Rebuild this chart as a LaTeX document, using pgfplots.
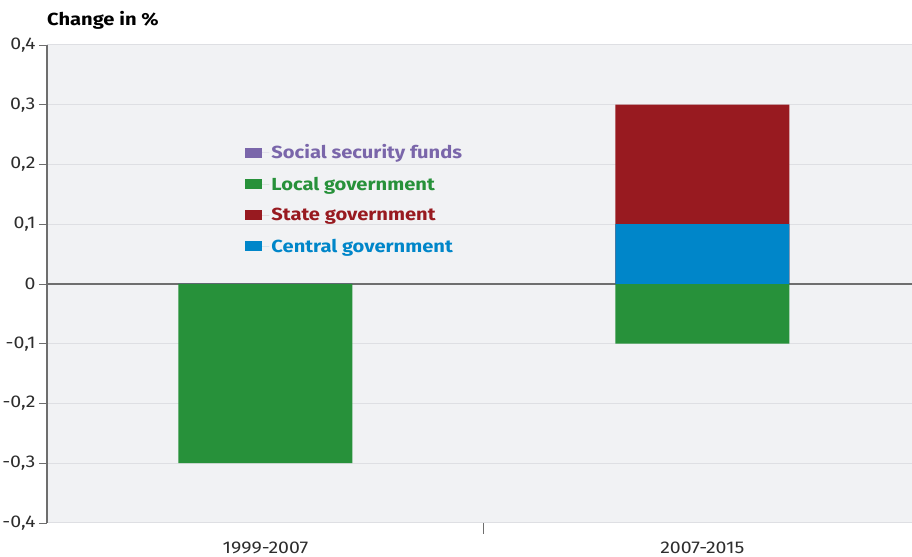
\documentclass[border=0pt]{standalone}
\usepackage{pgfplots}
\pgfplotsset{compat=1.18}
\usepackage{fontspec}
\setmainfont{Fira Sans}[FakeStretch=1.15]
\definecolor{cSoc}{RGB}{122,102,170}
\definecolor{cLoc}{RGB}{39,145,58}
\definecolor{cSta}{RGB}{152,26,32}
\definecolor{cCen}{RGB}{0,134,201}
\definecolor{bgc}{RGB}{241,242,244}
\definecolor{gridc}{RGB}{222,223,227}
\definecolor{axc}{RGB}{110,110,110}
\definecolor{txtc}{RGB}{45,45,45}
\pgfplotsset{
  mybar/.style={ybar, bar width=174pt, bar shift=0pt, draw=none, fill=#1,
    legend image code/.code={\path (0pt,0pt) -- (24pt,0pt);\fill[fill=#1,draw=none] (0pt,-5pt) rectangle (17pt,5pt);}},
}
\begin{document}
\begin{tikzpicture}
\begin{axis}[
  name=ax,
  scale only axis,
  width=865pt, height=478pt,
  xmin=-0.5, xmax=1.48,
  ymin=-0.4, ymax=0.4,
  axis background/.style={fill=bgc},
  axis x line*=bottom, axis y line*=left,
  x axis line style={draw=none},
  y axis line style={draw=axc, line width=1.5pt},
  tick align=outside,
  xtick={0,1}, xticklabels={1999-2007,2007-2015},
  minor xtick={0.5},
  major x tick style={draw=none},
  minor x tick style={draw=axc, line width=0.8pt},
  minor tick length=11pt,
  major tick length=8pt,
  ytick={-0.4,-0.3,-0.2,-0.1,0.1,0.2,0.3,0.4},
  extra y ticks={0},
  extra y tick style={grid style={draw=axc, line width=2pt}},
  ymajorgrids,
  grid style={draw=gridc, line width=1pt},
  major y tick style={draw=axc, line width=0.8pt},
  /pgf/number format/use comma,
  /pgf/number format/fixed,
  /pgf/number format/precision=1,
  /pgf/number format/assume math mode=true,
  ticklabel style={font=\fontsize{17}{20}\selectfont, text=txtc},
  xticklabel style={yshift=-7pt},
  title={\bfseries\fontsize{17.5}{20}\selectfont Change in \%},
  title style={at={(axis description cs:0,1)}, anchor=base west, yshift=13pt, inner sep=0pt},
  legend cell align=left,
  legend style={at={(axis cs:-0.053,0.24)}, anchor=north west, draw=none, fill=none,
    font=\bfseries\fontsize{17.5}{21}\selectfont, row sep=12.6pt},
]
\addplot[mybar=cSoc] coordinates {(0,0) (1,0)};
\addlegendentry{\textcolor{cSoc}{Social security funds}}
\addplot[mybar=cLoc] coordinates {(0,-0.3) (1,-0.1)};
\addlegendentry{\textcolor{cLoc}{Local government}}
% state government stacked on central government: top at 0.1+0.2
\addplot[mybar=cSta] coordinates {(0,0) (1,0.3)};
\addlegendentry{\textcolor{cSta}{State government}}
\addplot[mybar=cCen] coordinates {(0,0) (1,0.1)};
\addlegendentry{\textcolor{cCen}{Central government}}
\end{axis}
\pgfresetboundingbox
\path ([xshift=-47pt,yshift=-34pt]ax.south west) rectangle ([yshift=45pt]ax.north east);
\end{tikzpicture}
\end{document}
